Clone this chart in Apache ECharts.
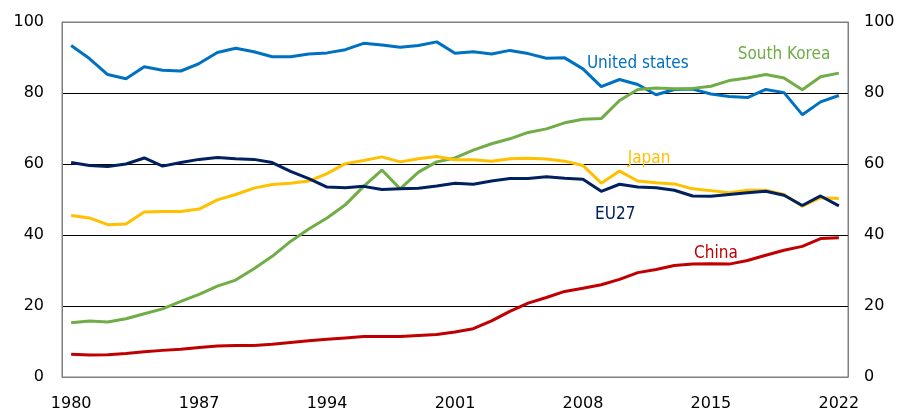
<!DOCTYPE html>
<html>
<head>
<meta charset="utf-8">
<script src="https://cdn.jsdelivr.net/npm/echarts@6/dist/echarts.min.js"></script>
<style>
  html, body { margin: 0; padding: 0; background: #fff; }
  #chart { width: 904px; height: 414px; }
</style>
</head>
<body>
<div id="chart"></div>
<script>
// Years on the horizontal axis
const years = [];
for (let y = 1980; y <= 2022; y++) years.push(String(y));

const yTicks = [0, 20, 40, 60, 80, 100];

const unitedStates = [93.4, 89.7, 85.2, 84.0, 87.4, 86.4, 86.2, 88.3, 91.4, 92.6,
  91.6, 90.2, 90.2, 91.0, 91.3, 92.2, 94.0, 93.5, 92.9, 93.4,
  94.4, 91.2, 91.6, 91.0, 92.0, 91.1, 89.8, 89.9, 86.8, 81.8,
  83.8, 82.4, 79.5, 81.0, 81.1, 79.7, 79.0, 78.7, 81.0, 80.1,
  73.9, 77.5, 79.3];

const southKorea = [15.3, 15.8, 15.5, 16.4, 17.8, 19.2, 21.3, 23.3, 25.6, 27.3,
  30.5, 34.0, 38.2, 41.7, 44.8, 48.5, 53.7, 58.3, 53.0, 57.7,
  60.6, 61.7, 63.9, 65.7, 67.1, 68.9, 69.9, 71.6, 72.6, 72.8,
  77.9, 81.0, 81.4, 81.2, 81.3, 81.9, 83.5, 84.2, 85.2, 84.2,
  80.9, 84.6, 85.6];

const japan = [45.5, 44.8, 42.9, 43.1, 46.5, 46.6, 46.6, 47.3, 49.9, 51.4,
  53.2, 54.2, 54.6, 55.2, 57.3, 60.1, 61.0, 62.0, 60.6, 61.5,
  62.1, 61.2, 61.2, 60.8, 61.5, 61.6, 61.4, 60.8, 59.6, 54.6,
  58.0, 55.2, 54.7, 54.4, 53.0, 52.5, 51.9, 52.6, 52.6, 51.4,
  48.1, 50.5, 50.3];

const eu27 = [60.4, 59.6, 59.3, 60.0, 61.7, 59.4, 60.4, 61.3, 61.8, 61.5,
  61.3, 60.4, 57.9, 55.9, 53.5, 53.3, 53.7, 52.8, 53.0, 53.2,
  53.8, 54.6, 54.3, 55.2, 55.9, 55.9, 56.4, 56.0, 55.7, 52.3,
  54.3, 53.5, 53.3, 52.6, 51.0, 50.9, 51.4, 51.9, 52.3, 51.2,
  48.3, 51.0, 48.2];

const china = [6.4, 6.2, 6.3, 6.6, 7.1, 7.5, 7.8, 8.3, 8.7, 8.9,
  8.9, 9.2, 9.7, 10.2, 10.6, 11.0, 11.4, 11.4, 11.4, 11.7,
  12.0, 12.7, 13.6, 15.8, 18.5, 20.8, 22.4, 24.1, 25.0, 26.0,
  27.5, 29.4, 30.3, 31.4, 31.8, 31.9, 31.8, 32.8, 34.3, 35.7,
  36.8, 39.0, 39.2];

// Series names, colours, and where each name is written (year, value, pixel nudge)
const seriesInfo = [
  { name: 'United states', data: unitedStates, color: '#0070c0', at: ['2011', 88.4], nudge: [0, 0] },
  { name: 'South Korea',   data: southKorea,   color: '#70ad47', at: ['2019', 90.8], nudge: [0, 0] },
  { name: 'Japan',         data: japan,        color: '#ffc000', at: ['2012', 61.4], nudge: [-7, 0] },
  { name: 'EU27',          data: eu27,         color: '#002060', at: ['2009', 45.8], nudge: [14, 0] },
  { name: 'China',         data: china,        color: '#c00000', at: ['2015', 34.7], nudge: [5, 0] }
];

const chart = echarts.init(document.getElementById('chart'), null, { renderer: 'canvas' });

const axisLabelStyle = { color: '#000', fontSize: 16, fontFamily: 'DejaVu Sans' };
const gridLineColors = ['#7f7f7f', '#000', '#000', '#000', '#000', '#7f7f7f'];

function valueAxis(position, showSplit) {
  return {
    type: 'value',
    position: position,
    min: yTicks[0],
    max: yTicks[yTicks.length - 1],
    interval: 20,
    axisLine: { show: true, lineStyle: { color: '#7f7f7f', width: 1 } },
    axisTick: { show: false },
    axisLabel: Object.assign({ margin: position === 'left' ? 18 : 16 }, axisLabelStyle),
    splitLine: { show: showSplit, lineStyle: { color: gridLineColors, width: 1 } }
  };
}

chart.setOption({
  animation: false,
  backgroundColor: '#fff',
  grid: {
    left: 62, right: 56, top: 22, bottom: 37,
    show: true, borderColor: '#7f7f7f', borderWidth: 1, backgroundColor: 'transparent'
  },
  xAxis: {
    type: 'category',
    data: years,
    boundaryGap: true,
    axisLine: { show: true, lineStyle: { color: '#7f7f7f', width: 1 } },
    axisTick: { show: false },
    axisLabel: Object.assign({ interval: 6, margin: 19 }, axisLabelStyle),
    splitLine: { show: false }
  },
  yAxis: [valueAxis('left', true), valueAxis('right', false)],
  series: seriesInfo.map(s => ({
    name: s.name,
    type: 'line',
    data: s.data,
    symbol: 'none',
    smooth: false,
    lineStyle: { color: s.color, width: 3 },
    itemStyle: { color: s.color },
    z: 3,
    markPoint: {
      symbol: 'circle',
      symbolSize: 0,
      silent: true,
      data: [{
        coord: s.at,
        label: {
          show: true,
          formatter: s.name,
          color: s.color,
          fontSize: 17,
          fontFamily: 'DejaVu Sans Condensed',
          position: 'inside',
          offset: s.nudge
        }
      }]
    }
  }))
});
</script>
</body>
</html>
